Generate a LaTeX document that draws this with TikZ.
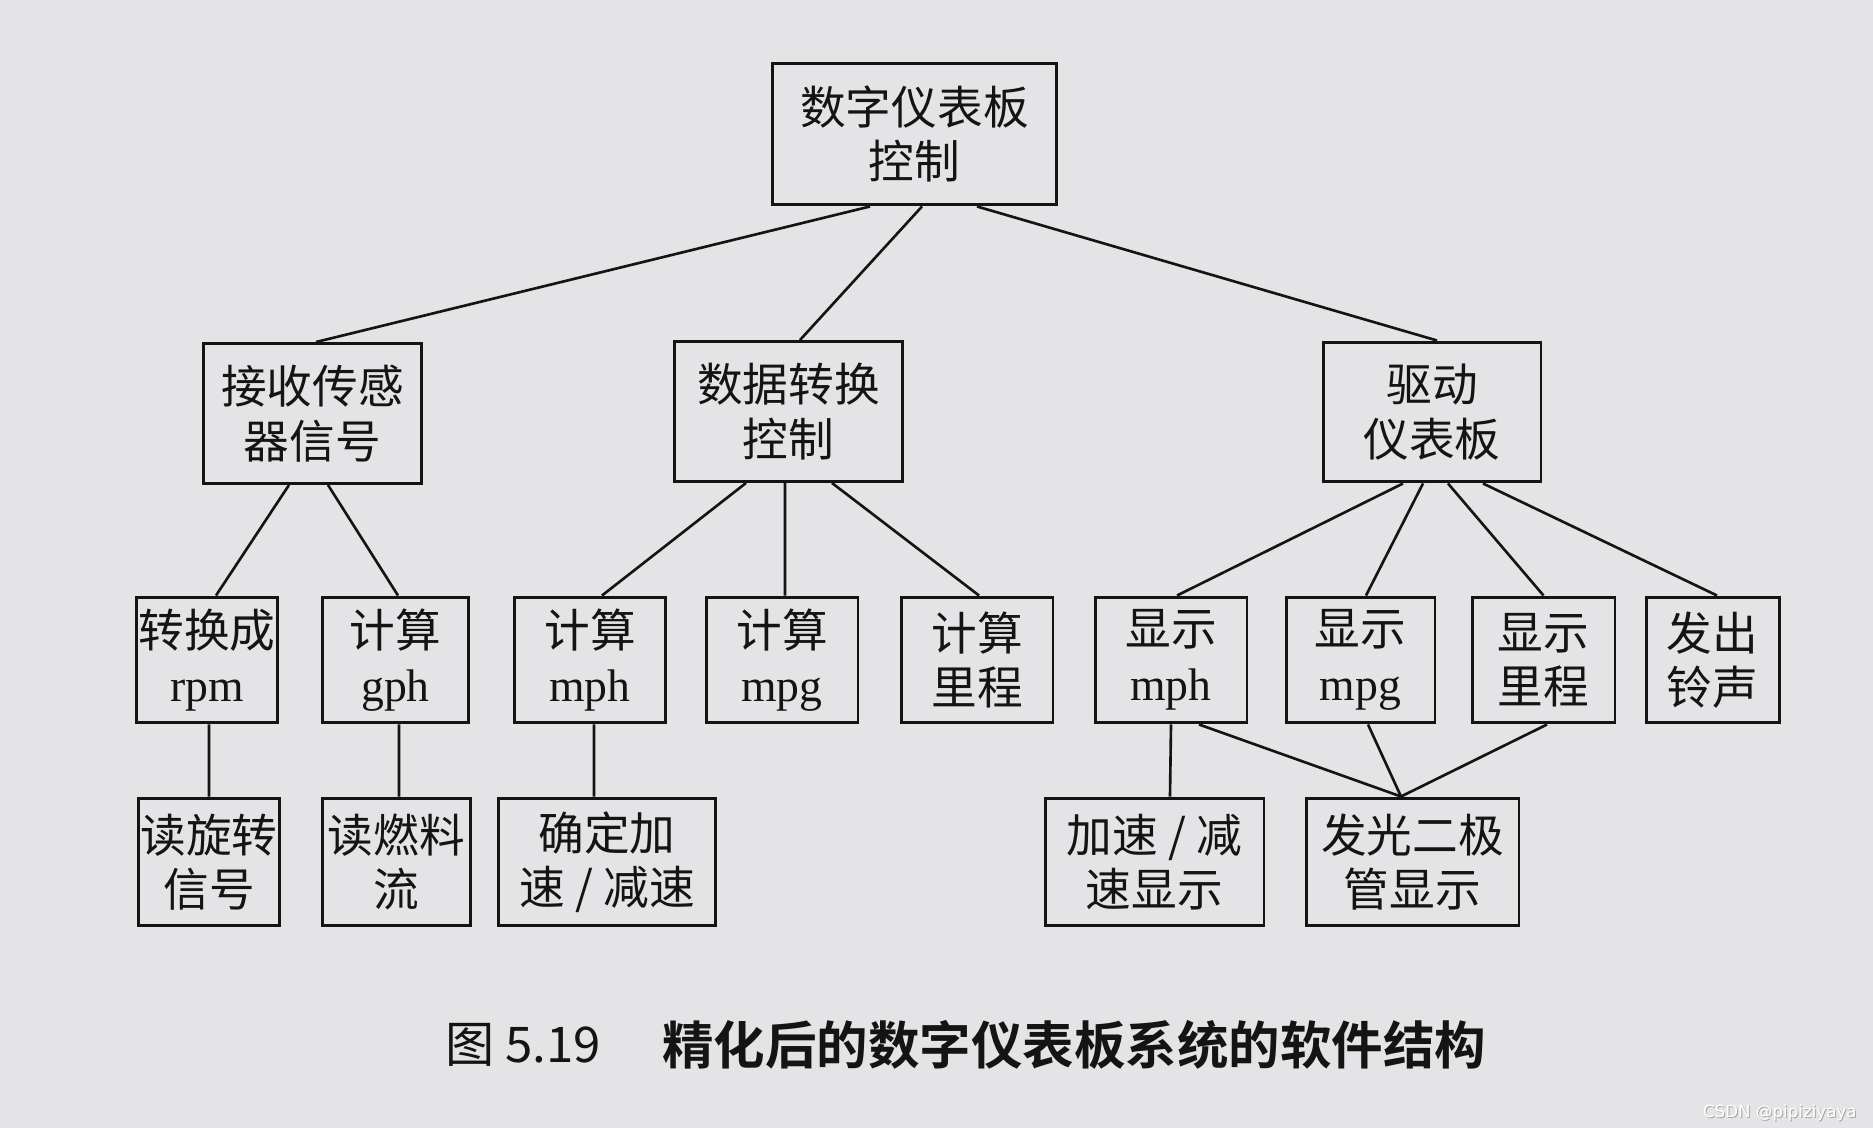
\documentclass[tikz,border=0pt]{standalone}
\usepackage{fontspec}
\setmainfont{Liberation Serif}
\newfontfamily\cjk{Noto Sans CJK SC}
\newfontfamily\cjkbold{Noto Sans CJK SC}[BoldFont={* Bold}]
\newcommand\latn[1]{{\rmfamily #1}}
\definecolor{paper}{RGB}{228,228,230}
\definecolor{ink}{RGB}{20,20,20}
\tikzset{
  box/.style={draw=ink, line width=1.7pt, align=center, inner sep=0pt,
    text=ink, font=\cjk\fontsize{26}{31}\selectfont},
  lvltwo/.style={box, minimum height=2.80cm},
  lvlthree/.style={box, minimum height=2.52cm},
  lvlfour/.style={box, minimum height=2.56cm},
  link/.style={draw=ink, line width=1.5pt}
}
\begin{document}
\begin{tikzpicture}[x=0.02cm, y=-0.02cm]
\fill[paper] (0,0) rectangle (1873,1128);
\useasboundingbox (0,0) rectangle (1873,1128);

% level 1
\node[box, minimum width=5.70cm, minimum height=2.84cm] (top) at (914.5,134) {数字仪表板\\控制};

% level 2
\node[lvltwo, minimum width=4.38cm] (recv) at (312.5,413.5) {接收传感\\器信号};
\node[lvltwo, minimum width=4.58cm] (conv) at (788.5,411.5) {数据转换\\控制};
\node[lvltwo, minimum width=4.36cm] (drive) at (1432,412) {驱动\\仪表板};

% level 3
\node[lvlthree, minimum width=2.84cm] (rpm) at (207,660) {转换成\\\latn{rpm}};
\node[lvlthree, minimum width=2.94cm] (gph) at (395.5,660) {计算\\\latn{gph}};
\node[lvlthree, minimum width=3.04cm] (mph) at (590,660) {计算\\\latn{mph}};
\node[lvlthree, minimum width=3.04cm] (mpg) at (782,660) {计算\\\latn{mpg}};
\node[lvlthree, minimum width=3.04cm] (dist) at (977,660) {计算\\里程};
\node[lvlthree, minimum width=3.04cm] (smph) at (1171,660) {显示\\\latn{mph}};
\node[lvlthree, minimum width=2.98cm] (smpg) at (1360.5,660) {显示\\\latn{mpg}};
\node[lvlthree, minimum width=2.86cm] (sdist) at (1543.5,660) {显示\\里程};
\node[lvlthree, minimum width=2.66cm] (bell) at (1712.5,660) {发出\\铃声};

% level 4
\node[lvlfour, minimum width=2.84cm] (rot) at (209,862) {读旋转\\信号};
\node[lvlfour, minimum width=2.98cm] (fuel) at (396.5,862) {读燃料\\流};
\node[lvlfour, minimum width=4.36cm] (acc) at (607,862) {确定加\\速 / 减速};
\node[lvlfour, minimum width=4.38cm] (accd) at (1154.5,862) {加速 / 减\\速显示};
\node[lvlfour, minimum width=4.26cm] (led) at (1412.5,862) {发光二极\\管显示};

% connectors level 1 -> 2
\draw[link] ([xshift=-0.89cm]top.south) -- ([xshift=0.07cm]recv.north);
\draw[link] ([xshift=0.15cm]top.south) -- ([xshift=0.23cm]conv.north);
\draw[link] ([xshift=1.25cm]top.south) -- ([xshift=0.10cm]drive.north);

% level 2 -> 3
\draw[link] ([xshift=-0.47cm]recv.south) -- ([xshift=0.18cm]rpm.north);
\draw[link] ([xshift=0.31cm]recv.south) -- ([xshift=0.05cm]gph.north);
\draw[link] ([xshift=-0.85cm]conv.south) -- ([xshift=0.24cm]mph.north);
\draw[link] ([xshift=-0.07cm]conv.south) -- ([xshift=0.06cm]mpg.north);
\draw[link] ([xshift=0.87cm]conv.south) -- ([xshift=0.04cm]dist.north);
\draw[link] ([xshift=-0.58cm]drive.south) -- ([xshift=0.12cm]smph.north);
\draw[link] ([xshift=-0.18cm]drive.south) -- ([xshift=0.11cm]smpg.north);
\draw[link] ([xshift=0.32cm]drive.south) -- (sdist.north);
\draw[link] ([xshift=1.02cm]drive.south) -- ([xshift=0.09cm]bell.north);

% level 3 -> 4
\draw[link] ([xshift=0.04cm]rpm.south) -- (rot.north);
\draw[link] ([xshift=0.07cm]gph.south) -- ([xshift=0.05cm]fuel.north);
\draw[link] ([xshift=0.08cm]mph.south) -- ([xshift=-0.26cm]acc.north);
\draw[link] (smph.south) -- ([xshift=0.31cm]accd.north);
\draw[link] ([xshift=0.56cm]smph.south) -- ([xshift=-0.23cm]led.north);
\draw[link] ([xshift=0.15cm]smpg.south) -- ([xshift=-0.23cm]led.north);
\draw[link] ([xshift=0.07cm]sdist.south) -- ([xshift=-0.23cm]led.north);

% caption
\node[anchor=west, inner sep=0pt, text=ink, font=\cjk\fontsize{28}{32}\selectfont] (fignum) at (445,1045) {图 5.19};
\node[anchor=west, inner sep=0pt, text=ink, font=\cjkbold\bfseries\fontsize{29.3}{34}\selectfont] (title) at (662,1045) {精化后的数字仪表板系统的软件结构};

% watermark
\node[anchor=east, inner sep=0pt, text=black!35, font=\fontspec{DejaVu Sans}\fontsize{9.5}{11}\selectfont] (wmshadow) at (1858,1113.5) {CSDN @pipiziyaya};
\node[anchor=east, inner sep=0pt, text=white, font=\fontspec{DejaVu Sans}\fontsize{9.5}{11}\selectfont] (wm) at (1857,1112.5) {CSDN @pipiziyaya};
\end{tikzpicture}
\end{document}
